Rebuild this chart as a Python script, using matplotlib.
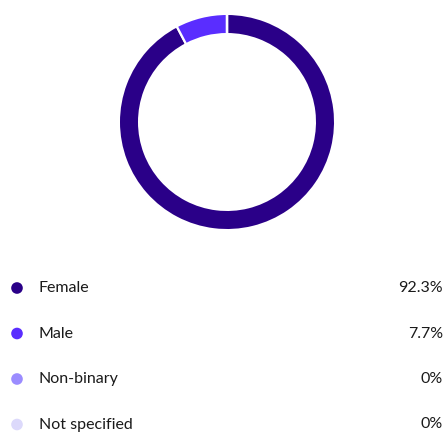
import matplotlib
matplotlib.use("Agg")
import matplotlib.pyplot as plt

LABELS = ["Female", "Male", "Non-binary", "Not specified"]
SHARES = [92.3, 7.7, 0.0, 0.0]
VALUE_TEXT = ["92.3%", "7.7%", "0%", "0%"]
COLORS = ["#2a0088", "#5a2dff", "#9b8cff", "#dcd9fb"]

W, H = 446, 432
fig = plt.figure(figsize=(W / 100, H / 100), dpi=100)
plt.rcParams["font.family"] = ["Lato", "DejaVu Sans"]

# donut, centre at (227, 122) px from top, outer radius 107 px
R = 107
EDGE = 1.6 * 100 / 72 / 2  # half of white edge, px
ax = fig.add_axes([(227 - R) / W, (H - 122 - R) / H, 2 * R / W, 2 * R / H])
ax.pie(SHARES, colors=COLORS, startangle=90, counterclock=False,
       radius=(R + EDGE) / R,
       wedgeprops=dict(width=(18 + 2 * EDGE) / R, edgecolor="white", linewidth=1.6))
ax.set_xlim(-1, 1); ax.set_ylim(-1, 1)
ax.set_aspect("equal")
ax.axis("off")

# legend rows in pixel coordinates
lg = fig.add_axes([0, 0, 1, 1])
lg.set_xlim(0, W); lg.set_ylim(H, 0)
lg.axis("off")
rows_y = [288, 333.5, 379, 424.5]
for y, lab, val, c in zip(rows_y, LABELS, VALUE_TEXT, COLORS):
    lg.scatter([17], [y], s=70, color=c, edgecolors="none")
    lg.text(39, y, lab, fontsize=11.5, color="#1a1a1a", va="center", ha="left")
    lg.text(443, y, val, fontsize=11.5, color="#1a1a1a", va="center", ha="right")

fig.savefig("out.png", dpi=100)
